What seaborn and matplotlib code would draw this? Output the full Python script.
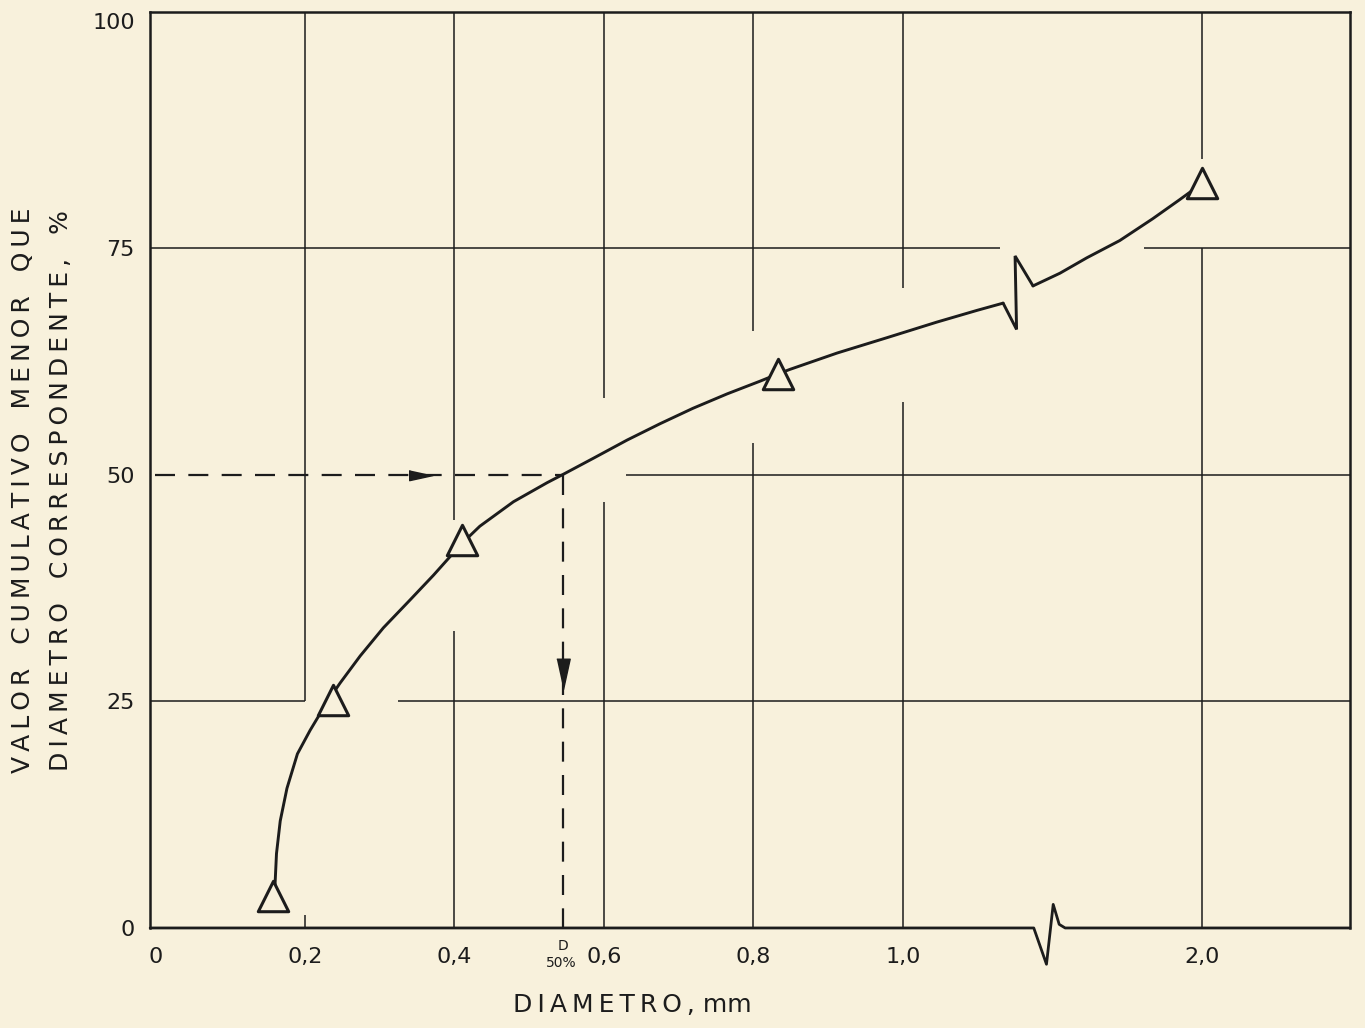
import matplotlib
matplotlib.use('Agg')
import matplotlib.pyplot as plt
import numpy as np
import pandas as pd
import seaborn as sns

# measured points (diameter in mm, cumulative % finer)
diam = [0.158, 0.237, 0.410, 0.833, 2.0]
pct = [3.5, 25.1, 42.8, 61.1, 82.1]

# hand-drawn fitted curve (split by the axis break)
curve_left_d = [0.160, 0.162, 0.167, 0.176, 0.190, 0.207, 0.223, 0.237, 0.247,
                0.274, 0.305, 0.341, 0.372, 0.398, 0.410, 0.434, 0.479, 0.524,
                0.545, 0.586, 0.631, 0.675, 0.719, 0.765, 0.809, 0.833, 0.849,
                0.912, 0.979, 1.045, 1.099, 1.134]
curve_left_p = [4.7, 8.2, 11.8, 15.4, 19.2, 21.8, 24.0, 25.8, 27.0,
                30.0, 33.1, 36.2, 38.9, 41.3, 42.4, 44.3, 47.0, 49.1,
                50.0, 51.8, 53.8, 55.6, 57.3, 58.9, 60.3, 61.1, 61.6,
                63.4, 65.1, 66.8, 68.1, 68.9]
curve_right_d = [1.774, 1.810, 1.846, 1.890, 1.934, 1.970, 2.0]
curve_right_p = [70.8, 72.2, 73.9, 75.8, 78.2, 80.3, 82.1]

d50 = 0.545
tick_mm = [0, 0.2, 0.4, 0.6, 0.8, 1.0, 2.0]
tick_labels = ['0', '0,2', '0,4', '0,6', '0,8', '1,0', '2,0']
ytick_vals = [0, 25, 50, 75, 100]

BREAK_MM = 1.5
SHIFT = 0.6   # right part of the broken axis is moved left by this much


def to_pos(d):
    d = np.asarray(d, dtype=float)
    return np.where(d < BREAK_MM, d, d - SHIFT)


def spaced(s):
    return '   '.join('\u2009'.join(w) for w in s.split(' '))


BG = '#f8f1dc'
INK = '#1c1c1c'

sns.set_style('white')
plt.rcParams['font.family'] = ['DejaVu Sans']

fig = plt.figure(figsize=(13.65, 10.28), dpi=100, facecolor=BG)
ax = fig.add_axes([0.110, 0.0973, 0.879, 0.891])
ax.set_facecolor(BG)
xmin, xmax = -0.007, 1.598
ax.set_xlim(xmin, xmax)
ax.set_ylim(0, 101)

# grid, drawn like the original sheet: lines stop short of the curve and points
glw = 1.1
for x, y0, y1 in [(0.2, 25, 101), (0.4, 0, 32.7), (0.4, 45, 101),
                  (0.6, 0, 47), (0.6, 58.4, 101), (0.8, 0, 53.5), (0.8, 65.8, 101),
                  (1.0, 0, 58), (1.0, 70.6, 101), (1.4, 0, 75), (1.4, 84.8, 101)]:
    ax.vlines(x, y0, y1, color=INK, lw=glw, zorder=1)
for y, x0, x1 in [(25, xmin, 0.2), (25, 0.325, xmax), (50, 0.63, xmax),
                  (75, xmin, 1.13), (75, 1.323, xmax)]:
    ax.hlines(y, x0, x1, color=INK, lw=glw, zorder=1)

segs = pd.DataFrame({
    'pos': np.concatenate([to_pos(curve_left_d), to_pos(curve_right_d)]),
    'pct': curve_left_p + curve_right_p,
    'seg': ['a'] * len(curve_left_d) + ['b'] * len(curve_right_d),
})
for name, g in segs.groupby('seg'):
    sns.lineplot(data=g, x='pos', y='pct', sort=False, color=INK, lw=2.1,
                 zorder=3, ax=ax)

# break mark on the curve
xl, yl = to_pos(curve_left_d[-1]), curve_left_p[-1]
xr, yr = to_pos(curve_right_d[0]), curve_right_p[0]
xm = (xl + xr) / 2 - 0.002
ax.plot([xl, xm, xm - 0.002, xr], [yl, yl - 2.9, yr + 3.3, yr],
        color=INK, lw=2.1, zorder=3, solid_joinstyle='miter')

# data points
pts = pd.DataFrame({'pos': to_pos(diam), 'pct': pct})
sns.scatterplot(data=pts, x='pos', y='pct', marker='^', s=480, color=BG,
                edgecolor=INK, linewidth=2.2, zorder=6, ax=ax)

# D50 construction
ax.plot([0, d50], [50, 50], color=INK, lw=1.6, ls=(0, (9, 6)), zorder=4)
ax.plot([d50, d50], [50, 0], color=INK, lw=1.6, ls=(0, (9, 6)), zorder=4)
ax.plot([0.355], [50], marker=[(-1.6, 0.7), (-1.6, -0.7), (1.6, 0)], ms=17,
        color=INK, zorder=5)
ax.plot([d50], [28], marker=[(-0.7, 1.6), (0.7, 1.6), (0, -1.6)], ms=22,
        color=INK, zorder=5)

# bottom axis with break
xb = 1.175
ax.plot([xmin, xb, xb + 0.017, xb + 0.026, xb + 0.034, xb + 0.042, xmax],
        [0, 0, -4, 2.6, 0.4, 0, 0], color=INK, lw=2.0, clip_on=False, zorder=7)
ax.vlines(0.2, 0, 1.4, color=INK, lw=glw)

for s in ['left', 'top', 'right']:
    ax.spines[s].set_color(INK)
    ax.spines[s].set_linewidth(1.8)
ax.spines['bottom'].set_visible(False)

ax.set_xticks(to_pos(tick_mm))
ax.set_xticklabels(tick_labels)
ax.set_yticks(ytick_vals)
ax.set_yticklabels([str(v) for v in ytick_vals])
ax.tick_params(axis='x', length=0, pad=14, labelsize=16, colors=INK)
ax.tick_params(axis='y', direction='out', length=5, width=1.2, pad=6,
               labelsize=16, colors=INK)
ax.set_xlabel('')
ax.set_ylabel('')

ax.annotate('D', (d50, 0), xytext=(0, -13), textcoords='offset points',
            ha='center', va='center', fontsize=10, color=INK)
ax.annotate('50%', (d50, 0), xytext=(-1, -25), textcoords='offset points',
            ha='center', va='center', fontsize=10, color=INK)

fig.text(0.463, 0.022, spaced('DIAMETRO,') + ' mm', ha='center', va='center',
         fontsize=18, color=INK)
fig.text(0.017, 0.523, spaced('VALOR CUMULATIVO MENOR QUE'), rotation=90,
         ha='center', va='center', fontsize=18, color=INK)
fig.text(0.045, 0.523, spaced('DIAMETRO CORRESPONDENTE, %'), rotation=90,
         ha='center', va='center', fontsize=18, color=INK)

plt.savefig('out.png', dpi=100, facecolor=BG)
plt.close()
